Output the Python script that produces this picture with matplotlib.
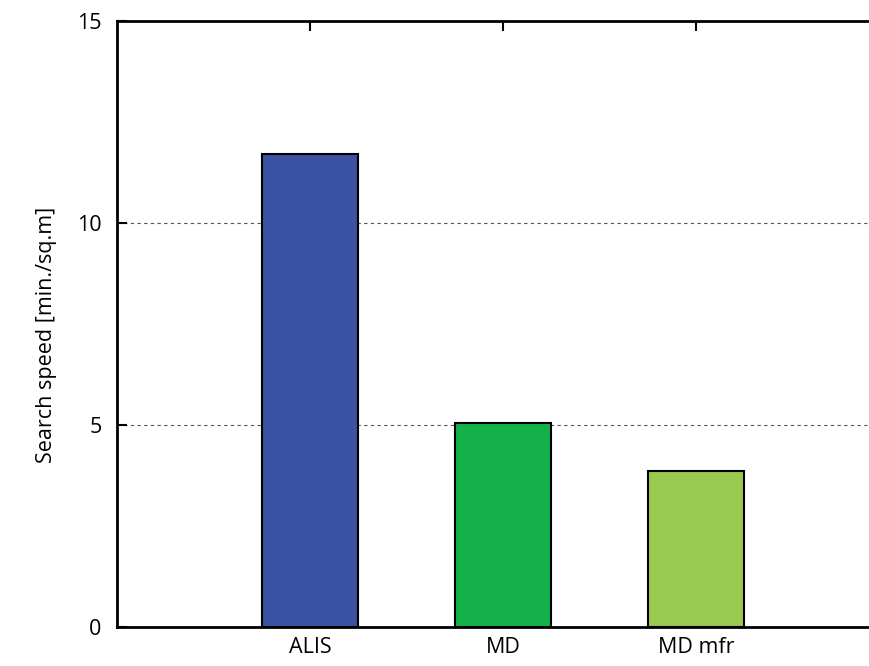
import matplotlib
matplotlib.use("Agg")
import matplotlib.pyplot as plt

categories = ["ALIS", "MD", "MD mfr"]
values = [11.71, 5.05, 3.86]
colors = ["#3A53A4", "#14B14B", "#98CA50"]
yticks = [0, 5, 10, 15]

plt.rcParams['font.family'] = ['Open Sans', 'DejaVu Sans']

fig = plt.figure(figsize=(8.7, 6.66), dpi=100)
W, H = 870, 666
left, right, top, bottom = 117, 889, 21, 627
ax = fig.add_axes([left / W, 1 - bottom / H, (right - left) / W, (bottom - top) / H])

x = list(range(1, len(categories) + 1))
ax.bar(x, values, width=0.5, color=colors, edgecolor="black", linewidth=1.5, zorder=3)

ax.set_xlim(0, len(categories) + 1)
ax.set_ylim(0, 15)
ax.set_xticks(x)
ax.set_xticklabels(categories, fontsize=15.5)
ax.set_yticks(yticks)
ax.set_yticklabels([str(v) for v in yticks], fontsize=15.5)
ax.set_ylabel("Search speed [min./sq.m]", fontsize=15.5)
ax.yaxis.set_label_coords(-0.078, 0.482)

for v in [5, 10]:
    ax.axhline(v, color="#555555", linestyle=(0, (3, 3)), linewidth=0.8, zorder=1)

for s in ax.spines.values():
    s.set_linewidth(2)
ax.tick_params(direction="in", length=7, width=1.5, top=True, right=True)
ax.tick_params(axis="y", pad=11)
ax.tick_params(axis="x", pad=7)

fig.savefig("out.png", dpi=100)
